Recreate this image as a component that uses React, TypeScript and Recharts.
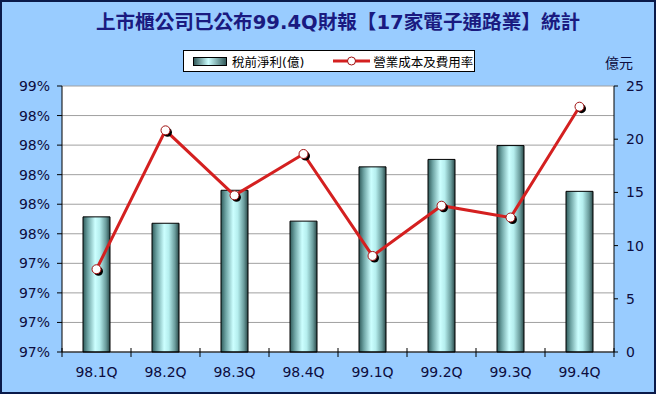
import React from 'react';
import { ComposedChart, Bar, Line, XAxis, YAxis, CartesianGrid } from 'recharts';

const quarters = ['98.1Q', '98.2Q', '98.3Q', '98.4Q', '99.1Q', '99.2Q', '99.3Q', '99.4Q'];
const profit = [12.7, 12.1, 15.2, 12.3, 17.4, 18.1, 19.4, 15.1];
const costRate = [97.36, 98.3, 97.86, 98.14, 97.45, 97.79, 97.71, 98.46];
const rateTicks = [96.8, 97.0, 97.2, 97.4, 97.6, 97.8, 98.0, 98.2, 98.4, 98.6];
const profitTicks = [0, 5, 10, 15, 20, 25];

const data = quarters.map((q, i) => ({ name: q, profit: profit[i], rate: costRate[i] }));

const FONT = '"DejaVu Sans", "Noto Sans CJK TC", sans-serif';
const INK = '#0d0d40';
const RED = '#d42020';

const RateDot: React.FC<any> = ({ cx, cy, index }) => {
  if (cx == null || cy == null) return null;
  return (
    <g key={`dot-${index}`}>
      <circle cx={cx + 2} cy={cy + 2} r={4.5} fill="#000" />
      <circle cx={cx} cy={cy} r={4.5} fill="#fff" stroke="#a01010" strokeWidth={1} />
    </g>
  );
};

const QuarterTick: React.FC<any> = ({ x, y, payload, index }) => {
  const half = payload && payload.offset ? payload.offset : 34.5;
  const axisY = y - 15;
  return (
    <g>
      <line x1={x - half} x2={x - half} y1={axisY - 4} y2={axisY + 5} stroke="#000" />
      {index === quarters.length - 1 && (
        <line x1={x + half} x2={x + half} y1={axisY - 4} y2={axisY + 5} stroke="#000" />
      )}
      <text x={x} y={axisY + 25} textAnchor="middle" fill={INK} fontSize={14} fontFamily={FONT}>
        {payload.value}
      </text>
    </g>
  );
};

const BarSwatch = ({ id }: { id: string }) => (
  <svg width={34} height={9} style={{ display: 'block' }}>
    <defs>
      <linearGradient id={id} x1="0" y1="0" x2="1" y2="0">
        <stop offset="0%" stopColor="#2e5555" />
        <stop offset="45%" stopColor="#ccffff" />
        <stop offset="100%" stopColor="#2e5555" />
      </linearGradient>
    </defs>
    <rect x={0.5} y={0.5} width={33} height={8} fill={`url(#${id})`} stroke="#000" />
  </svg>
);

const App: React.FC = () => {
  return (
    <div
      style={{
        position: 'absolute',
        left: 0,
        top: 0,
        width: 656,
        height: 394,
        boxSizing: 'border-box',
        border: '2px solid #0a1a4a',
        background: '#99ccff',
        fontFamily: FONT,
      }}
    >
      <div
        style={{
          position: 'absolute',
          left: 36,
          top: 9,
          width: 600,
          textAlign: 'center',
          fontSize: 19.6,
          lineHeight: '24px',
          fontWeight: 'bold',
          color: '#1a1a80',
          whiteSpace: 'nowrap',
        }}
      >
        上市櫃公司已公布99.4Q財報【17家電子通路業】統計
      </div>

      <div
        style={{
          position: 'absolute',
          left: 181,
          top: 48,
          width: 292,
          height: 22,
          boxSizing: 'border-box',
          border: '1px solid #000',
          background: '#fff',
          display: 'flex',
          alignItems: 'center',
          fontSize: 12.5,
          color: '#000',
          whiteSpace: 'nowrap',
        }}
      >
        <div style={{ marginLeft: 9, flexShrink: 0 }}>
          <BarSwatch id="legendBar" />
        </div>
        <span style={{ marginLeft: 5, flexShrink: 0 }}>稅前淨利(億)</span>
        <svg width={37} height={12} style={{ marginLeft: 29, display: 'block', flexShrink: 0 }}>
          <line x1={0} x2={37} y1={6} y2={6} stroke={RED} strokeWidth={3} />
          <circle cx={18.5} cy={6} r={4} fill="#fff" stroke="#a01010" />
        </svg>
        <span style={{ marginLeft: 3, flexShrink: 0 }}>營業成本及費用率</span>
      </div>

      <div style={{ position: 'absolute', left: 603, top: 50, fontSize: 14, color: INK }}>億元</div>

      <ComposedChart
        width={652}
        height={390}
        data={data}
        margin={{ top: 84, right: 10, bottom: 10, left: 8 }}
      >
        <defs>
          <linearGradient id="barFill" x1="0" y1="0" x2="1" y2="0">
            <stop offset="0%" stopColor="#2f5a5a" />
            <stop offset="18%" stopColor="#6fa5a5" />
            <stop offset="45%" stopColor="#ccffff" />
            <stop offset="62%" stopColor="#b5eeee" />
            <stop offset="85%" stopColor="#6a9c9c" />
            <stop offset="100%" stopColor="#2a4848" />
          </linearGradient>
        </defs>
        <CartesianGrid yAxisId="left" vertical={false} stroke="#a0a0a0" fill="#fff" />
        <XAxis
          dataKey="name"
          axisLine={{ stroke: '#000' }}
          tickLine={false}
          tickSize={5}
          tickMargin={10}
          height={30}
          tick={<QuarterTick />}
          interval={0}
        />
        <YAxis
          yAxisId="left"
          domain={[96.8, 98.6]}
          ticks={rateTicks}
          interval={0}
          width={52}
          tickSize={5}
          tickMargin={7}
          axisLine={{ stroke: '#000' }}
          tickLine={{ stroke: '#000' }}
          tick={{ fill: INK, fontSize: 14, fontFamily: FONT }}
          tickFormatter={(v: number) => `${Math.round(v)}%`}
        />
        <YAxis
          yAxisId="right"
          orientation="right"
          domain={[0, 25]}
          ticks={profitTicks}
          interval={0}
          width={30}
          tickSize={4}
          tickMargin={8}
          axisLine={{ stroke: '#000' }}
          tickLine={{ stroke: '#000' }}
          tick={{ fill: INK, fontSize: 14, fontFamily: FONT, textAnchor: 'start' }}
        />
        <Bar
          yAxisId="right"
          dataKey="profit"
          name="稅前淨利(億)"
          barSize={27}
          fill="url(#barFill)"
          stroke="#000"
          strokeWidth={1}
          isAnimationActive={false}
        />
        <Line
          yAxisId="left"
          dataKey="rate"
          name="營業成本及費用率"
          stroke={RED}
          strokeWidth={3}
          dot={<RateDot />}
          activeDot={false}
          isAnimationActive={false}
        />
      </ComposedChart>
    </div>
  );
};

export default App;
